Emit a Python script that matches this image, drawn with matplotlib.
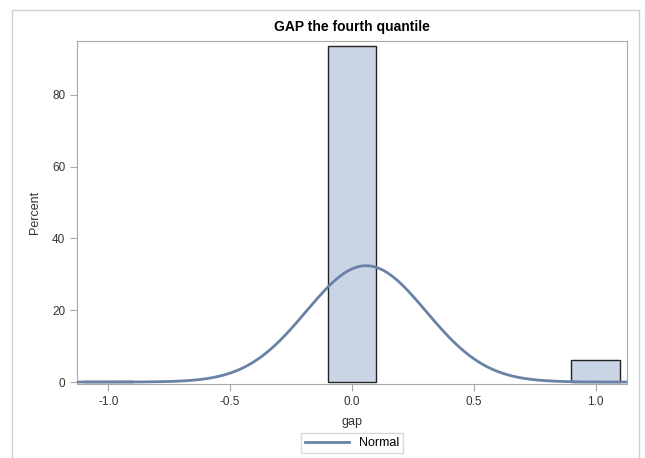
import numpy as np
import matplotlib.pyplot as plt
from matplotlib.patches import Rectangle

plt.rcParams['font.family'] = ['Liberation Sans', 'DejaVu Sans']

# histogram bins (midpoints) and percent of observations
bin_mids = [-1.0, 0.0, 1.0]
bin_width = 0.2
percents = [0.3, 93.6, 6.1]

# normal fit from the binned data
mids = np.array(bin_mids)
w = np.array(percents) / 100
mu = np.sum(mids * w)
sigma = np.sqrt(np.sum(w * (mids - mu) ** 2))

x_ticks = [-1.0, -0.5, 0.0, 0.5, 1.0]
y_ticks = [0, 20, 40, 60, 80]

fig = plt.figure(figsize=(6.45, 4.58), dpi=100)
fig.patches.append(Rectangle((12 / 645, -0.05), 627 / 645, 1.05 - 10 / 458,
                             transform=fig.transFigure, fill=False,
                             edgecolor='#d0d0d0', linewidth=1))
ax = fig.add_axes([77 / 645, 1 - 384 / 458, 550 / 645, 343 / 458])

ax.bar(bin_mids, percents, width=bin_width, color='#c9d5e5',
       edgecolor='#222222', linewidth=1, zorder=2)

xs = np.linspace(-1.13, 1.13, 400)
dens = 100 * bin_width * np.exp(-0.5 * ((xs - mu) / sigma) ** 2) / (sigma * np.sqrt(2 * np.pi))
ax.plot(xs, dens, color='#6a82a6', linewidth=2, label='Normal', zorder=3)

ax.set_xlim(-1.128, 1.128)
ax.set_ylim(-0.55, 95)
ax.set_xticks(x_ticks)
ax.set_xticklabels(['%.1f' % t for t in x_ticks])
ax.set_yticks(y_ticks)

for s in ax.spines.values():
    s.set_color('#a8a8a8')
ax.tick_params(colors='#a8a8a8', labelcolor='#333333', labelsize=8.5, length=5)

ax.set_title('GAP the fourth quantile', fontsize=10, fontweight='bold', pad=7)
ax.set_xlabel('gap', fontsize=9, color='#333333', labelpad=6)
ax.set_ylabel('Percent', fontsize=9, color='#333333', labelpad=8)

leg = ax.legend(loc='upper center', bbox_to_anchor=(0.5, -0.125), frameon=True,
                fancybox=False, fontsize=9, handlelength=3.5, borderpad=0.3)
leg.get_frame().set_edgecolor('#d0d0d0')
leg.get_frame().set_linewidth(1)

fig.savefig('out.png', dpi=100)
